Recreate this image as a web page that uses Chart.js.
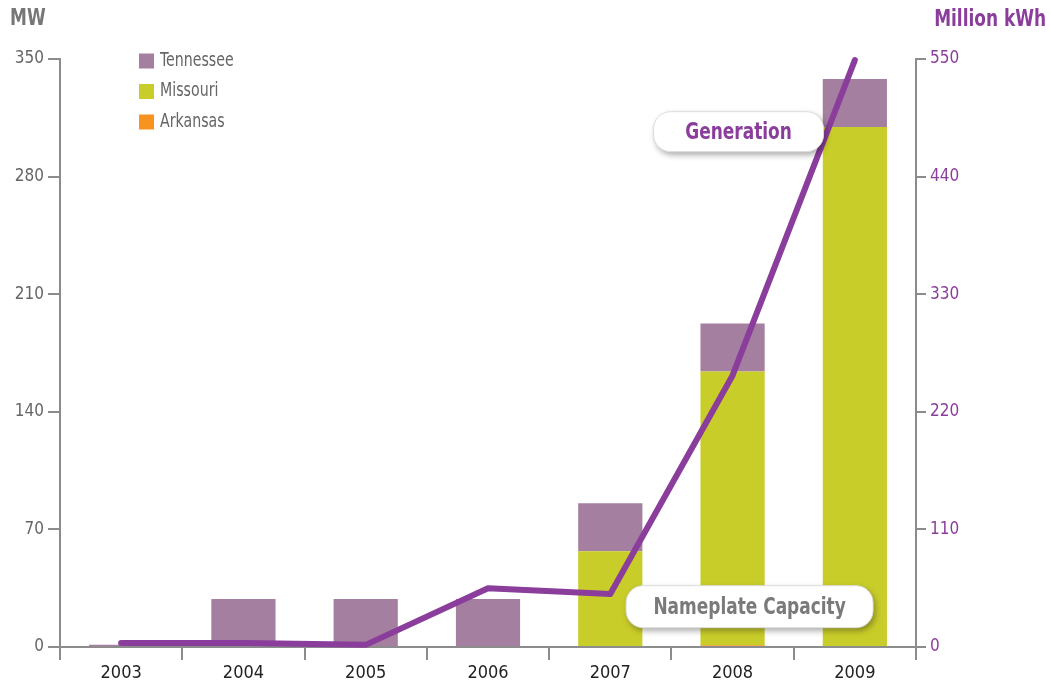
<!DOCTYPE html>
<html>
<head>
<meta charset="utf-8">
<script src="https://cdn.jsdelivr.net/npm/chart.js@4/dist/chart.umd.min.js"></script>
<style>
  html, body { margin: 0; padding: 0; background: #fff; }
  #wrap { position: relative; width: 1050px; height: 686px; }
</style>
</head>
<body>
<div id="wrap"><canvas id="chart" width="1050" height="686"></canvas></div>
<script>
const years = ['2003', '2004', '2005', '2006', '2007', '2008', '2009'];
// nameplate capacity, MW
const arkansas = [0, 0, 0, 0, 0, 1, 0];
const missouri = [0, 0, 0, 0, 57, 163, 309.5];
const tennessee = [1.3, 28.5, 28.5, 28.5, 28.6, 28.6, 28.6];
// generation, million kWh
const generation = [3.7, 3.7, 2, 55, 49.5, 254, 549];

const mwTicks = [0, 70, 140, 210, 280, 350];
const kwhTicks = [0, 110, 220, 330, 440, 550];

const FONT = '"Liberation Sans Narrow", "DejaVu Sans Condensed", "Open Sans", sans-serif';
const PURPLE = '#8b3d9c';
const AXIS = '#8c8c8c';

// text squeezed horizontally so it reads like a condensed face
function narrowText(ctx, text, x, y, font, color, align, sx) {
    ctx.save();
    ctx.font = font;
    ctx.fillStyle = color;
    ctx.textBaseline = 'middle';
    ctx.textAlign = align;
    ctx.translate(x, y);
    ctx.scale(sx, 1);
    ctx.fillText(text, 0, 0);
    ctx.restore();
}

function roundBox(ctx, cx, cy, w, h, r) {
    const x = cx - w / 2, y = cy - h / 2;
    ctx.beginPath();
    ctx.moveTo(x + r, y);
    ctx.arcTo(x + w, y, x + w, y + h, r);
    ctx.arcTo(x + w, y + h, x, y + h, r);
    ctx.arcTo(x, y + h, x, y, r);
    ctx.arcTo(x, y, x + w, y, r);
    ctx.closePath();
}

function callout(ctx, text, cx, cy, w, h, color) {
    ctx.save();
    ctx.shadowColor = 'rgba(0,0,0,0.35)';
    ctx.shadowBlur = 6;
    ctx.shadowOffsetX = 2;
    ctx.shadowOffsetY = 3;
    roundBox(ctx, cx, cy, w, h, 17);
    ctx.fillStyle = '#fff';
    ctx.fill();
    ctx.restore();
    ctx.save();
    roundBox(ctx, cx, cy, w, h, 17);
    ctx.strokeStyle = '#dcdcdc';
    ctx.lineWidth = 1;
    ctx.stroke();
    ctx.restore();
    narrowText(ctx, text, cx, cy + 1, 'bold 23px ' + FONT, color, 'center', 0.82);
}

const decorations = {
    id: 'decorations',
    afterDatasetsDraw(chart) {
        const ctx = chart.ctx;
        const x = chart.scales.x, y = chart.scales.y, y1 = chart.scales.y1;

        // axis titles
        narrowText(ctx, 'MW', 10, 19, 'bold 23px ' + FONT, '#777', 'left', 0.82);
        narrowText(ctx, 'Million kWh', 1046, 20, 'bold 23px ' + FONT, PURPLE, 'right', 0.82);

        // legend, top row is the top of the stack
        const rows = chart.data.datasets.filter(d => d.type === 'bar').slice().reverse();
        rows.forEach((d, i) => {
            const ry = 61 + i * 30.5;
            ctx.fillStyle = d.backgroundColor;
            ctx.fillRect(139, ry - 7.5, 15, 15);
            narrowText(ctx, d.label, 160, ry, '19px ' + FONT, '#666', 'left', 0.83);
        });

        // callouts
        callout(ctx, 'Generation', x.getPixelForValue(5) + 6, y1.getPixelForValue(482), 170, 40, PURPLE);
        callout(ctx, 'Nameplate Capacity', x.getPixelForValue(5) + 17, y.getPixelForValue(24), 247, 42, '#7a7a7a');
    }
};

new Chart(document.getElementById('chart'), {
    data: {
        labels: years,
        datasets: [
            { type: 'line', label: 'Generation', data: generation, yAxisID: 'y1', order: 0,
              borderColor: PURPLE, borderWidth: 6, pointRadius: 0, tension: 0, clip: false,
              borderCapStyle: 'round', borderJoinStyle: 'round' },
            { type: 'bar', label: 'Arkansas', data: arkansas, yAxisID: 'y', order: 1,
              backgroundColor: '#f7931e', barPercentage: 0.75, categoryPercentage: 0.7 },
            { type: 'bar', label: 'Missouri', data: missouri, yAxisID: 'y', order: 1,
              backgroundColor: '#c9cd2a', barPercentage: 0.75, categoryPercentage: 0.7 },
            { type: 'bar', label: 'Tennessee', data: tennessee, yAxisID: 'y', order: 1,
              backgroundColor: '#a47f9f', barPercentage: 0.75, categoryPercentage: 0.7 }
        ]
    },
    options: {
        responsive: false,
        animation: false,
        layout: { padding: { top: 59, left: 0, right: 0, bottom: 0 } },
        plugins: { legend: { display: false }, tooltip: { enabled: false } },
        scales: {
            x: {
                stacked: true,
                offset: true,
                grid: { offset: true, drawOnChartArea: false, drawTicks: true, tickLength: 13, color: AXIS, lineWidth: 2 },
                border: { display: true, color: AXIS, width: 2 },
                ticks: { color: '#222', font: { family: FONT, size: 18 }, padding: 3 },
                afterFit(s) { s.height = 39; }
            },
            y: {
                stacked: true,
                position: 'left',
                min: 0, max: 350,
                afterBuildTicks(s) { s.ticks = mwTicks.map(v => ({ value: v })); },
                grid: { drawOnChartArea: false, drawTicks: true, tickLength: 12, color: AXIS, lineWidth: 2 },
                border: { display: true, color: AXIS, width: 2 },
                ticks: { color: '#666', font: { family: FONT, size: 17 }, padding: 4 },
                afterFit(s) { s.width = 60; }
            },
            y1: {
                position: 'right',
                min: 0, max: 550,
                afterBuildTicks(s) { s.ticks = kwhTicks.map(v => ({ value: v })); },
                grid: { drawOnChartArea: false, drawTicks: true, tickLength: 10, color: AXIS, lineWidth: 2 },
                border: { display: true, color: AXIS, width: 2 },
                ticks: { color: PURPLE, font: { family: FONT, size: 17 }, padding: 4 },
                afterFit(s) { s.width = 134; }
            }
        }
    },
    plugins: [decorations]
});
</script>
</body>
</html>
